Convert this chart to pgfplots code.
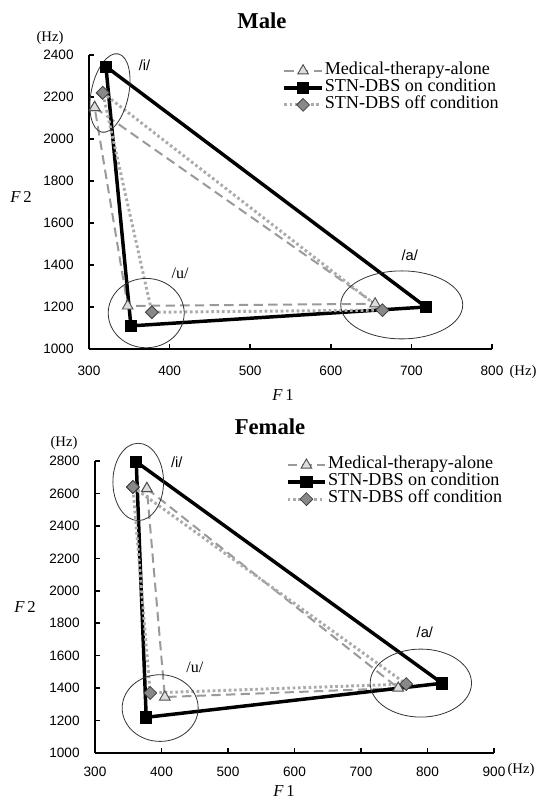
\documentclass[border=0pt]{standalone}
\usepackage{fontspec}
\setmainfont{Liberation Serif}
\setsansfont{Liberation Sans}
\usepackage{pgfplots}
\pgfplotsset{compat=1.18}
\definecolor{medline}{HTML}{9A9A9A}
\definecolor{medfill}{HTML}{DDDDDD}
\definecolor{mededge}{HTML}{505050}
\definecolor{offline}{HTML}{ABABAB}
\definecolor{offfill}{HTML}{888888}
\definecolor{offedge}{HTML}{404040}
\definecolor{ellc}{HTML}{333333}

\pgfplotsset{
  vowel/.style={
    scale only axis,
    axis lines=left,
    axis line style={-, line width=1.8pt},
    clip=false,
    tick align=inside,
    major tick length=3.5pt,
    tick style={line width=1.2pt, black},
    /pgf/number format/assume math mode=true,
    /pgf/number format/1000 sep={},
    tick label style={font=\sffamily\fontsize{10.2}{12}\selectfont},
    yticklabel style={xshift=-8pt},
    legend cell align=left,
    legend style={draw=none, fill=none, font=\fontsize{13.6}{15}\selectfont,
      row sep=0pt, nodes={inner ysep=0pt, inner xsep=1pt, text height=9pt, text depth=3.75pt}},
    legend image code/.code={\draw[mark repeat=2,mark phase=2,#1] plot coordinates {(0pt,0pt) (14pt,0pt) (28pt,0pt)};},
  },
  medstyle/.style={medline, line width=1.5pt, dash pattern=on 7pt off 4pt,
    mark=triangle*, mark size=4.6pt,
    mark options={solid, fill=medfill, draw=mededge, line width=0.7pt}},
  onstyle/.style={black, line width=2.6pt, mark=square*, mark size=4.2pt,
    mark options={solid, fill=black, line width=0.5pt}},
  offstyle/.style={offline, line width=2.2pt, dash pattern=on 2pt off 2pt,
    mark=square*, mark size=3.4pt,
    mark options={solid, rotate=45, fill=offfill, draw=offedge, line width=0.6pt}},
}

\begin{document}
\begin{tikzpicture}
\useasboundingbox (0,0) rectangle (404.25pt,601.5pt);

% ---------------- Male ----------------
\begin{axis}[vowel,
  at={(66.75pt,339.75pt)}, anchor=south west,
  width=302.25pt, height=220.5pt,
  xmin=300, xmax=800, ymin=1000, ymax=2400,
  xtick={300,400,...,800}, ytick={1000,1200,...,2400},
  xticklabel style={yshift=-9pt},
  legend style={at={(0.47,0.985)}, anchor=north west},
]
\addplot[medstyle] coordinates {(307,2150) (655,1215) (348,1205) (307,2150)};
\addlegendentry{Medical-therapy-alone}
\addplot[onstyle] coordinates {(321,2345) (718,1200) (352,1110) (321,2345)};
\addlegendentry{STN-DBS on condition}
\addplot[offstyle] coordinates {(317,2220) (664,1185) (378,1175) (317,2220)};
\addlegendentry{STN-DBS off condition}

\draw[ellc, line width=0.6pt, rotate around={-12:(axis cs:326,2219)}] (axis cs:326,2219) ellipse [x radius=14pt, y radius=30pt];
\draw[ellc, line width=0.6pt] (axis cs:371,1171) ellipse [x radius=28.5pt, y radius=26pt];
\draw[ellc, line width=0.6pt] (axis cs:688,1210) ellipse [x radius=45.75pt, y radius=25.5pt];

\node[font=\sffamily\fontsize{11}{13}\selectfont] at (axis cs:369,2352) {/i/};
\node[font=\fontsize{12}{14}\selectfont] at (axis cs:413,1362) {/u/};
\node[font=\sffamily\fontsize{11}{13}\selectfont] at (axis cs:698,1448) {/a/};
\end{axis}

\node[font=\bfseries\fontsize{17}{20}\selectfont] at (196.5pt,585.75pt) {Male};
\node[font=\fontsize{11}{13}\selectfont] at (37.5pt,573pt) {(Hz)};
\node[font=\fontsize{12.5}{14}\selectfont] at (15.75pt,453.75pt) {\textit{F}\,2};
\node[font=\fontsize{12.5}{14}\selectfont] at (212.25pt,305.25pt) {\textit{F}\,1};
\node[font=\fontsize{11}{13}\selectfont] at (392.25pt,322.5pt) {(Hz)};

% ---------------- Female ----------------
\begin{axis}[vowel,
  at={(71.25pt,36.75pt)}, anchor=south west,
  width=299.25pt, height=219pt,
  xmin=300, xmax=900, ymin=1000, ymax=2800,
  xtick={300,400,...,900}, ytick={1000,1200,...,2800},
  xticklabel style={yshift=-7pt},
  legend style={at={(0.468,1.025)}, anchor=north west},
]
\addplot[medstyle] coordinates {(378,2630) (756,1400) (405,1345) (378,2630)};
\addlegendentry{Medical-therapy-alone}
\addplot[onstyle] coordinates {(362,2795) (822,1430) (377,1220) (362,2795)};
\addlegendentry{STN-DBS on condition}
\addplot[offstyle] coordinates {(357,2640) (768,1425) (383,1370) (357,2640)};
\addlegendentry{STN-DBS off condition}

\draw[ellc, line width=0.6pt] (axis cs:365,2671) ellipse [x radius=19pt, y radius=29pt];
\draw[ellc, line width=0.6pt] (axis cs:398,1277) ellipse [x radius=28.5pt, y radius=25pt];
\draw[ellc, line width=0.6pt] (axis cs:790,1431) ellipse [x radius=38pt, y radius=25.5pt];

\node[font=\sffamily\fontsize{11}{13}\selectfont] at (axis cs:423,2794) {/i/};
\node[font=\fontsize{12}{14}\selectfont] at (axis cs:450,1529) {/u/};
\node[font=\sffamily\fontsize{11}{13}\selectfont] at (axis cs:796,1745) {/a/};
\end{axis}

\node[font=\bfseries\fontsize{17}{20}\selectfont] at (202.5pt,281.25pt) {Female};
\node[font=\fontsize{11}{13}\selectfont] at (48pt,269.25pt) {(Hz)};
\node[font=\fontsize{12.5}{14}\selectfont] at (18.75pt,146.25pt) {\textit{F}\,2};
\node[font=\fontsize{12.5}{14}\selectfont] at (213pt,8pt) {\textit{F}\,1};
\node[font=\fontsize{11}{13}\selectfont] at (390.75pt,24pt) {(Hz)};
\end{tikzpicture}
\end{document}
